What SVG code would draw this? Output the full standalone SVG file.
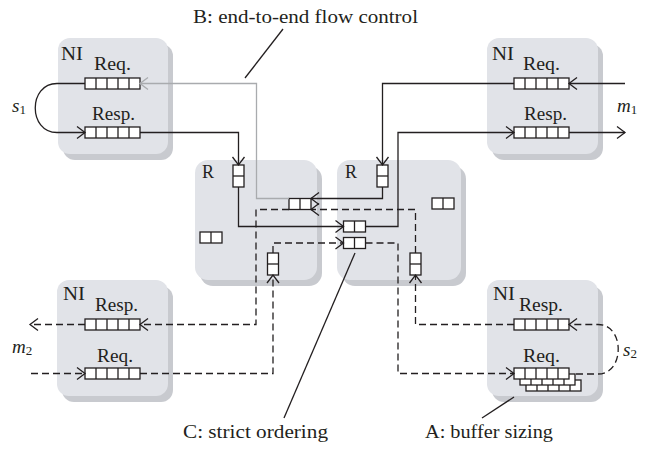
<svg xmlns="http://www.w3.org/2000/svg" xmlns:xlink="http://www.w3.org/1999/xlink" width="659" height="449" viewBox="0 0 659 449">
<style>
.box{fill:#e1e3e8}
.sh{fill:#c8cacf}
.qb{fill:#fff;stroke:#231f20;stroke-width:1.3}
.qd{stroke:#231f20;stroke-width:1.3}
.c{fill:none;stroke:#231f20;stroke-width:1.3}
.d{stroke-dasharray:7 4}
.g{stroke:#a9abae}
text{font-family:"Liberation Serif","Times New Roman",serif;font-size:18px;fill:#231f20}
.it{font-style:italic;font-size:19px}
.sub{font-style:normal;font-size:13px}
</style>
<defs>
<marker id="ah" markerUnits="userSpaceOnUse" markerWidth="20" markerHeight="20" viewBox="-10 -10 20 20" refX="0" refY="0" orient="auto" overflow="visible">
<path d="M-8,-6 L0,0 L-8,6" fill="none" stroke="#231f20" stroke-width="1.3"/>
</marker>
<marker id="ahg" markerUnits="userSpaceOnUse" markerWidth="20" markerHeight="20" viewBox="-10 -10 20 20" refX="0" refY="0" orient="auto" overflow="visible">
<path d="M-8,-6 L0,0 L-8,6" fill="none" stroke="#a9abae" stroke-width="1.3"/>
</marker>
<g id="q5">
<rect class="qb" x="0" y="0" width="55" height="11"/>
<path class="qd" d="M11,0V11M22,0V11M33,0V11M44,0V11"/>
</g>
<g id="q2h">
<rect class="qb" x="0" y="0" width="22" height="11"/>
<path class="qd" d="M11,0V11"/>
</g>
<g id="q2v">
<rect class="qb" x="0" y="0" width="11" height="22"/>
<path class="qd" d="M0,11H11"/>
</g>
</defs>
<rect width="659" height="449" fill="#fff"/>

<g id="ni1">
<rect class="sh" x="63" y="44" width="110" height="116" rx="12"/>
<rect class="box" x="58" y="38" width="110" height="116" rx="12"/>
<text x="61" y="60" textLength="22" lengthAdjust="spacingAndGlyphs">NI</text>
<text x="94" y="70" textLength="37" lengthAdjust="spacingAndGlyphs">Req.</text>
<text x="92" y="120" textLength="43" lengthAdjust="spacingAndGlyphs">Resp.</text>
<use xlink:href="#q5" x="85" y="78"/>
<use xlink:href="#q5" x="85" y="127"/>
</g>

<g id="ni2">
<rect class="sh" x="492" y="44" width="111" height="116" rx="12"/>
<rect class="box" x="487" y="38" width="111" height="116" rx="12"/>
<text x="492" y="60" textLength="22" lengthAdjust="spacingAndGlyphs">NI</text>
<text x="523" y="70" textLength="37" lengthAdjust="spacingAndGlyphs">Req.</text>
<text x="524" y="120" textLength="43" lengthAdjust="spacingAndGlyphs">Resp.</text>
<use xlink:href="#q5" x="514" y="78"/>
<use xlink:href="#q5" x="514" y="127"/>
</g>

<g id="ni3">
<rect class="sh" x="62" y="286" width="111" height="116" rx="12"/>
<rect class="box" x="57" y="280" width="111" height="116" rx="12"/>
<text x="63" y="300" textLength="22" lengthAdjust="spacingAndGlyphs">NI</text>
<text x="95" y="311" textLength="43" lengthAdjust="spacingAndGlyphs">Resp.</text>
<text x="97" y="362" textLength="36" lengthAdjust="spacingAndGlyphs">Req.</text>
<use xlink:href="#q5" x="85" y="319"/>
<use xlink:href="#q5" x="85" y="368"/>
</g>

<g id="ni4">
<rect class="sh" x="492" y="286" width="111" height="116" rx="12"/>
<rect class="box" x="487" y="280" width="111" height="116" rx="12"/>
<text x="493" y="300" textLength="22" lengthAdjust="spacingAndGlyphs">NI</text>
<text x="519" y="311" textLength="44" lengthAdjust="spacingAndGlyphs">Resp.</text>
<text x="523" y="362" textLength="37" lengthAdjust="spacingAndGlyphs">Req.</text>
<use xlink:href="#q5" x="514" y="319"/>
<use xlink:href="#q5" x="526" y="380"/>
<use xlink:href="#q5" x="520" y="374"/>
<use xlink:href="#q5" x="514" y="368"/>
</g>

<g id="r1">
<rect class="sh" x="200" y="166" width="122" height="120" rx="13"/>
<rect class="box" x="195" y="160" width="122" height="120" rx="13"/>
<text x="202" y="178" textLength="12" lengthAdjust="spacingAndGlyphs">R</text>
<use xlink:href="#q2v" x="233" y="165"/>
<use xlink:href="#q2h" x="289" y="198.5"/>
<use xlink:href="#q2h" x="200" y="232"/>
<use xlink:href="#q2v" x="267.5" y="253"/>
</g>

<g id="r2">
<rect class="sh" x="342" y="166" width="124" height="120" rx="13"/>
<rect class="box" x="337" y="160" width="124" height="120" rx="13"/>
<text x="345" y="178" textLength="12" lengthAdjust="spacingAndGlyphs">R</text>
<use xlink:href="#q2v" x="377" y="165"/>
<use xlink:href="#q2h" x="432" y="198"/>
<use xlink:href="#q2h" x="343.5" y="221"/>
<use xlink:href="#q2h" x="343.5" y="237.5"/>
<use xlink:href="#q2v" x="410" y="253"/>
</g>

<g id="connectors">
<path class="c" marker-end="url(#ah)" d="M625,83.5H569"/>
<path class="c" marker-end="url(#ah)" d="M514,83.5H382.5V165"/>
<path class="c" marker-end="url(#ah)" d="M382.5,187V198.5H311"/>
<path class="c g" marker-end="url(#ahg)" d="M289,198.5H256.5V83.5H140"/>
<path class="c" marker-end="url(#ah)" d="M85,83.5H57C28,83.5 28,132.5 57,132.5H85"/>
<path class="c" marker-end="url(#ah)" d="M140,132.5H238.5V165"/>
<path class="c" marker-end="url(#ah)" d="M238.5,187V226.5H343.5"/>
<path class="c" marker-end="url(#ah)" d="M365.5,226.5H398V132.5H514"/>
<path class="c" marker-end="url(#ah)" d="M569,132.5H625"/>
<path class="c d" marker-end="url(#ah)" d="M514,324.5H415.5V275"/>
<path class="c d" marker-end="url(#ah)" d="M415.5,253V209.5H311"/>
<path class="c d" marker-end="url(#ah)" d="M289,209.5H256V324.5H140"/>
<path class="c d" marker-end="url(#ah)" d="M85,324.5H30"/>
<path class="c d" marker-end="url(#ah)" d="M31,373.5H85"/>
<path class="c d" marker-end="url(#ah)" d="M140,373.5H273V275"/>
<path class="c d" marker-end="url(#ah)" d="M273,253V243H343.5"/>
<path class="c d" marker-end="url(#ah)" d="M365.5,243H398V373.5H514"/>
<path class="c d" marker-end="url(#ah)" d="M576,374H598C625,374 625,324.5 598,324.5H569"/>
<path class="c" d="M283,29L245,78"/>
<path class="c" d="M355,253L284,418"/>
<path class="c" d="M514,397L482,418"/>
</g>

<g id="labels">
<text x="193" y="23" textLength="225" lengthAdjust="spacingAndGlyphs">B: end-to-end flow control</text>
<text x="183" y="438" textLength="145" lengthAdjust="spacingAndGlyphs">C: strict ordering</text>
<text x="425" y="438" textLength="128" lengthAdjust="spacingAndGlyphs">A: buffer sizing</text>
<text class="it" x="12" y="112">s<tspan class="sub" dy="2">1</tspan></text>
<text class="it" x="617" y="112">m<tspan class="sub" dy="2">1</tspan></text>
<text class="it" x="12" y="353">m<tspan class="sub" dy="2">2</tspan></text>
<text class="it" x="623" y="356">s<tspan class="sub" dy="2">2</tspan></text>
</g>
</svg>
